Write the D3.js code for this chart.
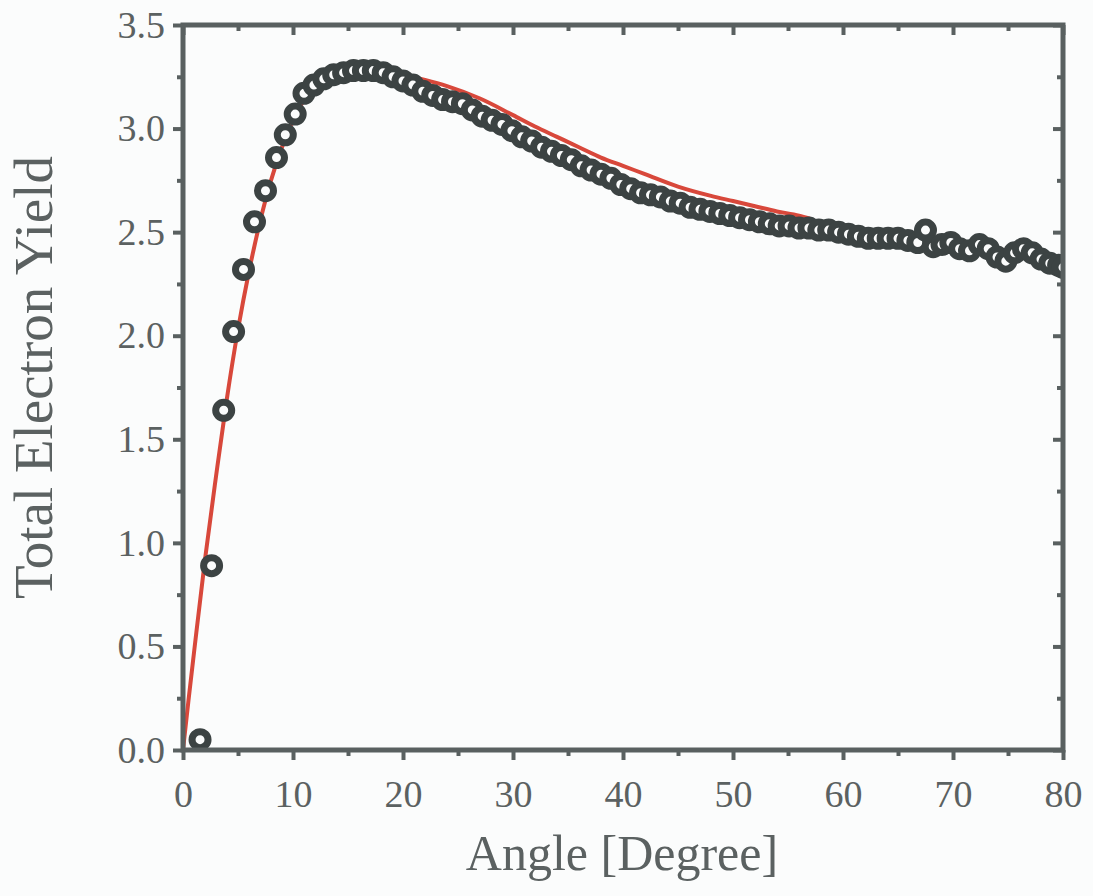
<!DOCTYPE html>
<html>
<head>
<meta charset="utf-8">
<script src="https://cdn.jsdelivr.net/npm/d3@7"></script>
<style>
  body { margin: 0; background: #fbfcfc; }
  svg { display: block; }
  .tick text { font-family: "Liberation Serif", "Times New Roman", serif; fill: #5b6161; }
  .axisText { font-family: "Liberation Serif", "Times New Roman", serif; fill: #5b6161; }
</style>
</head>
<body>
<div class="chart"></div>
<script>
// measured points (angle in degree, yield)
var angles = [1.55, 2.6, 3.7, 4.6, 5.5, 6.5, 7.5, 8.5, 9.3, 10.2, 11.0, 11.9, 12.8, 13.7, 14.6,
  15.5, 16.4, 17.3, 18.2, 19.1, 20.0, 20.9, 21.8, 22.7, 23.6, 24.5, 25.4, 26.3, 27.2, 28.1,
  29.0, 29.9, 30.8, 31.7, 32.6, 33.5, 34.4, 35.3, 36.2, 37.1, 38.0, 38.9, 39.8, 40.7, 41.6,
  42.5, 43.4, 44.3, 45.2, 46.1, 47.0, 47.9, 48.8, 49.7, 50.6, 51.5, 52.4, 53.3, 54.2, 55.1,
  56.0, 56.9, 57.8, 58.7, 59.6, 60.5, 61.4, 62.3, 63.2, 64.1, 65.0, 65.9, 66.8, 67.5, 68.2,
  69.0, 69.8, 70.6, 71.5, 72.4, 73.2, 74.0, 74.8, 75.6, 76.4, 77.2, 78.0, 78.8, 79.6, 80.0];
var yields = [0.05, 0.89, 1.64, 2.02, 2.32, 2.55, 2.70, 2.86, 2.97, 3.07, 3.17, 3.21, 3.24, 3.26, 3.27,
  3.28, 3.28, 3.28, 3.27, 3.25, 3.23, 3.21, 3.18, 3.16, 3.14, 3.13, 3.12, 3.09, 3.06, 3.04,
  3.02, 2.99, 2.96, 2.94, 2.91, 2.89, 2.87, 2.85, 2.82, 2.80, 2.78, 2.76, 2.73, 2.71, 2.69,
  2.68, 2.67, 2.65, 2.64, 2.62, 2.61, 2.60, 2.59, 2.58, 2.57, 2.56, 2.55, 2.54, 2.53, 2.53,
  2.52, 2.52, 2.51, 2.51, 2.50, 2.49, 2.48, 2.47, 2.47, 2.47, 2.47, 2.46, 2.45, 2.51, 2.43,
  2.44, 2.45, 2.42, 2.41, 2.44, 2.42, 2.38, 2.36, 2.40, 2.42, 2.40, 2.37, 2.35, 2.34, 2.33];

// fitted curve (red)
var fitAngles = [0, 0.5, 1, 2, 3, 4, 5, 6, 7, 8, 9, 10, 11, 12, 13, 14, 15, 16, 17, 18, 19, 20,
  22, 24, 27, 30, 32, 34, 36, 38, 40, 42, 45, 48, 50, 52, 54, 56, 57];
var fitYields = [0, 0.24, 0.47, 0.92, 1.32, 1.70, 2.03, 2.31, 2.55, 2.75, 2.91, 3.04, 3.14, 3.21, 3.25,
  3.28, 3.29, 3.29, 3.29, 3.28, 3.27, 3.26, 3.235, 3.205, 3.145, 3.065, 3.01, 2.96, 2.91, 2.86,
  2.82, 2.78, 2.72, 2.675, 2.65, 2.625, 2.60, 2.58, 2.565];

var xMajor = [0, 10, 20, 30, 40, 50, 60, 70, 80];
var xMinor = [5, 15, 25, 35, 45, 55, 65, 75];
var yMajor = [0, 0.5, 1.0, 1.5, 2.0, 2.5, 3.0, 3.5];
var yMinor = [0.25, 0.75, 1.25, 1.75, 2.25, 2.75, 3.25];

var svgWidth = 1093;
var svgHeight = 896;
var margin = { top: 25, right: 30, bottom: 146, left: 183 };
var width = 1063 - margin.left;
var height = 750 - margin.top;

var axisColor = "#596060";

var svg = d3.select(".chart")
  .append("svg")
  .attr("width", svgWidth)
  .attr("height", svgHeight);

svg.append("rect")
  .attr("width", svgWidth)
  .attr("height", svgHeight)
  .attr("fill", "#fbfcfc");

var chartGroup = svg.append("g")
  .attr("transform", `translate(${margin.left}, ${margin.top})`);

var xScale = d3.scaleLinear().domain([0, 80]).range([0, width]);
var yScale = d3.scaleLinear().domain([0, 3.5]).range([height, 0]);

chartGroup.append("clipPath")
  .attr("id", "plotClip")
  .append("rect")
  .attr("width", width)
  .attr("height", height);

// fit line
var line = d3.line()
  .x((d, i) => xScale(fitAngles[i]))
  .y(d => yScale(d))
  .curve(d3.curveMonotoneX);

chartGroup.append("path")
  .datum(fitYields)
  .attr("d", line)
  .attr("fill", "none")
  .attr("stroke", "#d8483b")
  .attr("stroke-width", 4)
  .attr("clip-path", "url(#plotClip)");

// open circles
chartGroup.append("g")
  .attr("clip-path", "url(#plotClip)")
  .selectAll("circle")
  .data(yields)
  .enter()
  .append("circle")
  .attr("cx", (d, i) => xScale(angles[i]))
  .attr("cy", d => yScale(d))
  .attr("r", 8)
  .attr("fill", "#fbfcfc")
  .attr("stroke", "#3c4343")
  .attr("stroke-width", 7);

// axes
function styleAxis(g) {
  g.select(".domain").remove();
  g.selectAll(".tick line").attr("stroke", axisColor).attr("stroke-width", 4);
}

var bottomAxis = chartGroup.append("g")
  .attr("transform", `translate(0, ${height})`)
  .call(d3.axisBottom(xScale).tickValues(xMajor).tickSize(10).tickPadding(20).tickFormat(d3.format("d")));
bottomAxis.call(styleAxis);
bottomAxis.selectAll(".tick text").attr("font-size", 38);
chartGroup.append("g")
  .attr("transform", `translate(0, ${height})`)
  .call(d3.axisBottom(xScale).tickValues(xMinor).tickSize(6).tickFormat(""))
  .call(styleAxis);

chartGroup.append("g")
  .call(d3.axisTop(xScale).tickValues(xMajor).tickSize(-10).tickFormat(""))
  .call(styleAxis);
chartGroup.append("g")
  .call(d3.axisTop(xScale).tickValues(xMinor).tickSize(-6).tickFormat(""))
  .call(styleAxis);

var leftAxis = chartGroup.append("g")
  .call(d3.axisLeft(yScale).tickValues(yMajor).tickSize(10).tickPadding(8).tickFormat(d3.format(".1f")));
leftAxis.call(styleAxis);
leftAxis.selectAll(".tick text").attr("font-size", 38);
chartGroup.append("g")
  .call(d3.axisLeft(yScale).tickValues(yMinor).tickSize(6).tickFormat(""))
  .call(styleAxis);

chartGroup.append("g")
  .attr("transform", `translate(${width}, 0)`)
  .call(d3.axisRight(yScale).tickValues(yMajor).tickSize(-10).tickFormat(""))
  .call(styleAxis);
chartGroup.append("g")
  .attr("transform", `translate(${width}, 0)`)
  .call(d3.axisRight(yScale).tickValues(yMinor).tickSize(-6).tickFormat(""))
  .call(styleAxis);

// frame
chartGroup.append("rect")
  .attr("width", width)
  .attr("height", height)
  .attr("fill", "none")
  .attr("stroke", axisColor)
  .attr("stroke-width", 5);

// axis titles
chartGroup.append("text")
  .attr("class", "axisText")
  .attr("transform", `translate(${width / 2 - 1}, ${height + 120})`)
  .attr("text-anchor", "middle")
  .attr("font-size", 50)
  .text("Angle [Degree]");

chartGroup.append("text")
  .attr("class", "axisText")
  .attr("transform", `translate(${52 - margin.left}, ${height / 2 - 10}) rotate(-90)`)
  .attr("text-anchor", "middle")
  .attr("font-size", 55)
  .text("Total Electron Yield");
</script>
</body>
</html>
